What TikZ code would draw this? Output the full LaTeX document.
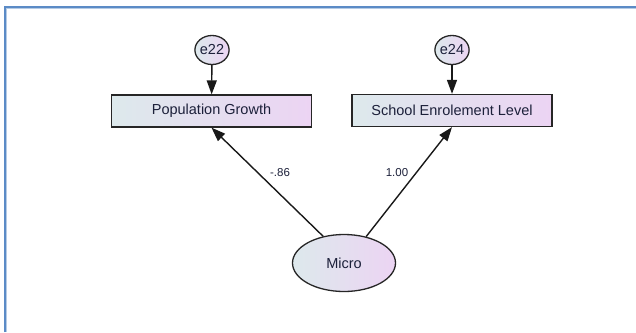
\documentclass[tikz,border=0pt]{standalone}
\usepackage{fontspec}
\setmainfont{Liberation Sans}
\usetikzlibrary{arrows.meta,shapes.geometric}
\definecolor{frameblue}{RGB}{91,139,198}
\definecolor{gleft}{RGB}{221,233,236}
\definecolor{gright}{RGB}{236,212,243}
\definecolor{txt}{RGB}{28,32,58}
\tikzset{
  obs/.style={draw=black!85, line width=1.3pt, rectangle, minimum width=200pt, minimum height=32pt,
    left color=gleft, right color=gright, font=\fontsize{14.5}{16}\selectfont, text=txt, inner sep=0pt},
  err/.style={draw=black!85, line width=1.3pt, ellipse, minimum width=31pt, minimum height=29pt,
    left color=gleft, right color=gright, font=\fontsize{14.5}{16}\selectfont, text=txt, inner sep=0pt},
  lat/.style={draw=black!85, line width=1.3pt, ellipse, minimum width=103pt, minimum height=57pt,
    left color=gleft, right color=gright, font=\fontsize{14.5}{16}\selectfont, text=txt, inner sep=0pt},
  conn/.style={draw=black!90, line width=1.4pt, -{Triangle[length=14pt,width=10pt]}},
  coef/.style={font=\fontsize{11.5}{13}\selectfont, text=txt, inner sep=0pt}
}
\begin{document}
\begin{tikzpicture}[x=1pt,y=-1pt]
\useasboundingbox (0,0) rectangle (636,332);
\fill[white] (0,0) rectangle (636,332);
\draw[frameblue!45, line width=3pt] (5,332) -- (5,7) -- (636,7);
\draw[frameblue, line width=1.4pt] (5,332) -- (5,7) -- (636,7);

\node[obs] (pg) at (211.5,111) {Population Growth};
\node[obs] (sel) at (452,110.5) {School Enrolement Level};
\node[err] (e22) at (212,50) {e22};
\node[err] (e24) at (452,50) {e24};
\node[lat] (micro) at (344,263) {Micro};

\draw[conn] (e22) -- (pg);
\draw[conn] (e24) -- (sel);
\draw[conn] (micro.128) -- (pg.south);
\draw[conn] (micro.50) -- (sel.south);

\node[coef] (l1) at (280,173) {-.86};
\node[coef] (l2) at (397,173) {1.00};
\end{tikzpicture}
\end{document}
